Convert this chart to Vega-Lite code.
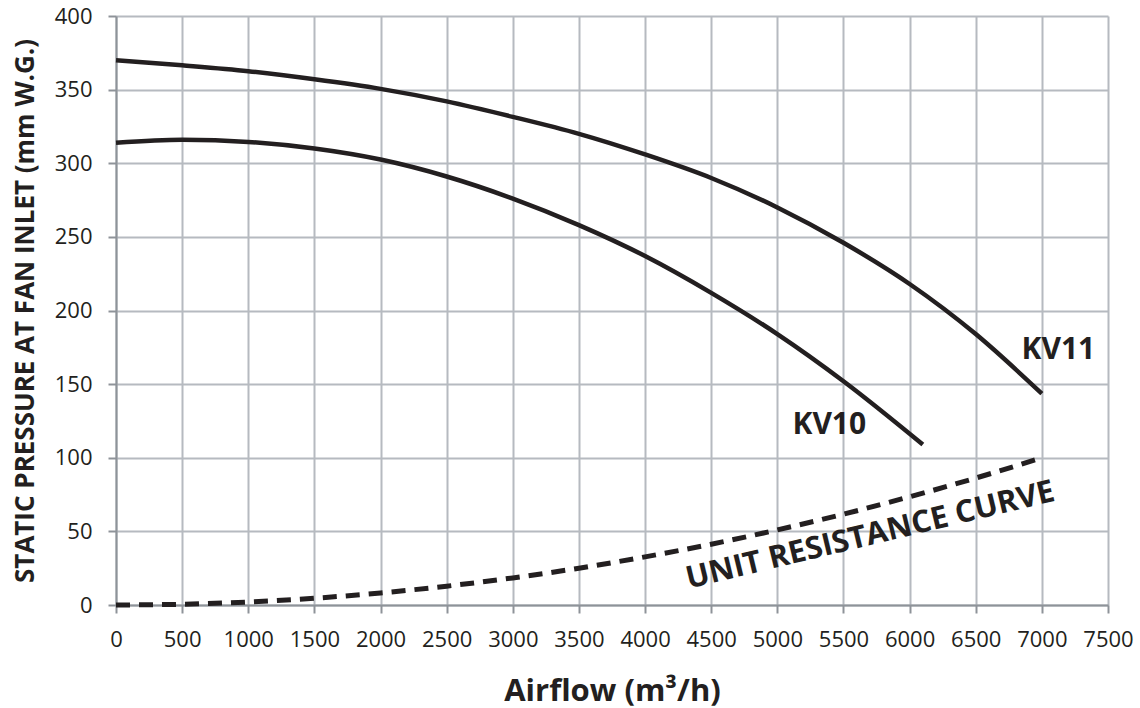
{
  "$schema": "https://vega.github.io/schema/vega-lite/v6.json",
  "width": 992,
  "height": 589,
  "autosize": "none",
  "padding": {"left": 116, "top": 16, "right": 32, "bottom": 103},
  "background": "white",
  "config": {
    "view": {"stroke": null},
    "font": "Open Sans"
  },
  "datasets": {
    "curves": [
      {"airflow": 0, "pressure": 370, "series": "KV11"},
      {"airflow": 500, "pressure": 366.5, "series": "KV11"},
      {"airflow": 1000, "pressure": 362.5, "series": "KV11"},
      {"airflow": 1500, "pressure": 357, "series": "KV11"},
      {"airflow": 2000, "pressure": 350.5, "series": "KV11"},
      {"airflow": 2500, "pressure": 342, "series": "KV11"},
      {"airflow": 3000, "pressure": 331.5, "series": "KV11"},
      {"airflow": 3500, "pressure": 320, "series": "KV11"},
      {"airflow": 4000, "pressure": 306, "series": "KV11"},
      {"airflow": 4500, "pressure": 290, "series": "KV11"},
      {"airflow": 5000, "pressure": 270, "series": "KV11"},
      {"airflow": 5500, "pressure": 246, "series": "KV11"},
      {"airflow": 6000, "pressure": 218, "series": "KV11"},
      {"airflow": 6500, "pressure": 184, "series": "KV11"},
      {"airflow": 7000, "pressure": 143.5, "series": "KV11"},
      {"airflow": 0, "pressure": 314, "series": "KV10"},
      {"airflow": 500, "pressure": 316, "series": "KV10"},
      {"airflow": 1000, "pressure": 314.5, "series": "KV10"},
      {"airflow": 1500, "pressure": 310, "series": "KV10"},
      {"airflow": 2000, "pressure": 302.5, "series": "KV10"},
      {"airflow": 2500, "pressure": 291, "series": "KV10"},
      {"airflow": 3000, "pressure": 276, "series": "KV10"},
      {"airflow": 3500, "pressure": 258, "series": "KV10"},
      {"airflow": 4000, "pressure": 237, "series": "KV10"},
      {"airflow": 4500, "pressure": 212, "series": "KV10"},
      {"airflow": 5000, "pressure": 184, "series": "KV10"},
      {"airflow": 5500, "pressure": 152, "series": "KV10"},
      {"airflow": 6100, "pressure": 109, "series": "KV10"}
    ],
    "resistance": [
      {"airflow": 0, "pressure": 0},
      {"airflow": 500, "pressure": 0.5},
      {"airflow": 1000, "pressure": 2},
      {"airflow": 1500, "pressure": 4.6},
      {"airflow": 2000, "pressure": 8.2},
      {"airflow": 2500, "pressure": 12.8},
      {"airflow": 3000, "pressure": 18.4},
      {"airflow": 3500, "pressure": 25},
      {"airflow": 4000, "pressure": 32.7},
      {"airflow": 4500, "pressure": 41.3},
      {"airflow": 5000, "pressure": 51},
      {"airflow": 5500, "pressure": 61.7},
      {"airflow": 6000, "pressure": 73.5},
      {"airflow": 6500, "pressure": 86.2},
      {"airflow": 7000, "pressure": 100}
    ],
    "labels": [
      {"airflow": 7125, "pressure": 173, "label": "KV11"},
      {"airflow": 5393, "pressure": 122, "label": "KV10"}
    ],
    "curveLabel": [
      {"airflow": 5703, "pressure": 47, "label": "UNIT RESISTANCE CURVE"}
    ]
  },
  "encoding": {
    "x": {
      "field": "airflow",
      "type": "quantitative",
      "scale": {"domain": [0, 7500], "nice": false, "zero": false},
      "axis": {
        "title": "Airflow (m³/h)",
        "titleFont": "Open Sans",
        "titleFontSize": 31,
        "titleFontWeight": "bold",
        "titleColor": "#231f20",
        "titlePadding": 26,
        "values": [0, 500, 1000, 1500, 2000, 2500, 3000, 3500, 4000, 4500, 5000, 5500, 6000, 6500, 7000, 7500],
        "format": "d",
        "labelFontSize": 22,
        "labelColor": "#231f20",
        "labelPadding": 16,
        "labelFlush": false,
        "labelOverlap": false,
        "tickSize": 8,
        "tickColor": "#8e9399",
        "tickWidth": 2,
        "domainColor": "#8e9399",
        "domainWidth": 2,
        "gridColor": "#b6bac0",
        "gridWidth": 2,
        "gridOpacity": 1
      }
    },
    "y": {
      "field": "pressure",
      "type": "quantitative",
      "scale": {"domain": [0, 400], "nice": false},
      "axis": {
        "title": "STATIC PRESSURE AT FAN INLET (mm W.G.)",
        "titleFont": "Open Sans",
        "titleFontSize": 26,
        "titleFontWeight": "bold",
        "titleColor": "#231f20",
        "titlePadding": 16,
        "values": [0, 50, 100, 150, 200, 250, 300, 350, 400],
        "labelFontSize": 22,
        "labelColor": "#231f20",
        "labelPadding": 16,
        "labelFlush": false,
        "tickSize": 8,
        "tickColor": "#8e9399",
        "tickWidth": 2,
        "domainColor": "#8e9399",
        "domainWidth": 2,
        "gridColor": "#b6bac0",
        "gridWidth": 2,
        "gridOpacity": 1
      }
    }
  },
  "layer": [
    {
      "data": {"name": "curves"},
      "mark": {"type": "line", "interpolate": "monotone", "color": "#231f20", "strokeWidth": 4.5},
      "encoding": {"detail": {"field": "series"}}
    },
    {
      "data": {"name": "resistance"},
      "mark": {"type": "line", "interpolate": "monotone", "color": "#231f20", "strokeWidth": 5, "strokeDash": [14, 9]}
    },
    {
      "data": {"name": "labels"},
      "mark": {"type": "text", "font": "Open Sans", "fontWeight": "bold", "fontSize": 30, "color": "#231f20", "align": "center", "baseline": "middle"},
      "encoding": {"text": {"field": "label"}}
    },
    {
      "data": {"name": "curveLabel"},
      "mark": {"type": "text", "font": "Open Sans", "fontWeight": "bold", "fontSize": 31, "color": "#231f20", "align": "center", "baseline": "middle", "angle": -13.5},
      "encoding": {"text": {"field": "label"}}
    }
  ]
}
